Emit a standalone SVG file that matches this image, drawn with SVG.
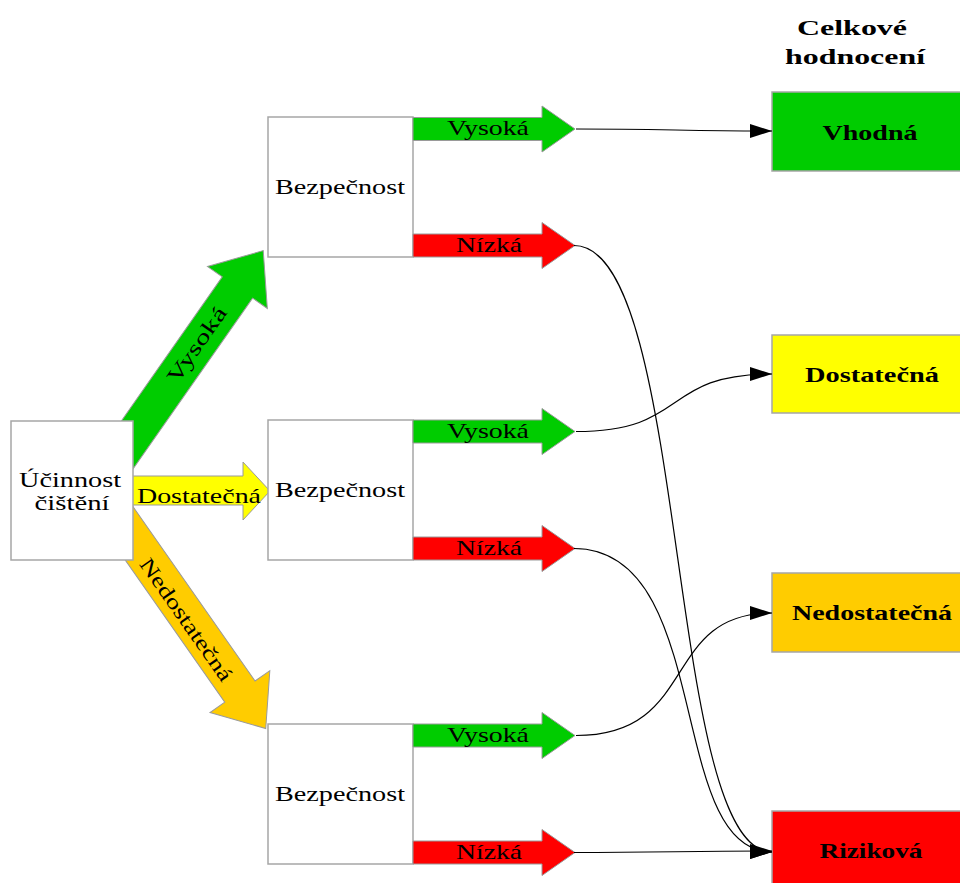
<svg xmlns="http://www.w3.org/2000/svg" width="960" height="883" viewBox="0 0 960 883">
<style>
.box{fill:#fff;stroke:#a6a6a6;stroke-width:1.5}
.t{font-family:"Liberation Serif","Times New Roman",serif;font-size:21px;fill:#000}
.b{font-family:"Liberation Serif","Times New Roman",serif;font-size:21px;font-weight:bold;fill:#000}
.g{fill:#00cc00;stroke:#9a9a9a;stroke-width:1}
.r{fill:#ff0000;stroke:#9a9a9a;stroke-width:1}
.y{fill:#ffff00;stroke:#9a9a9a;stroke-width:1}
.o{fill:#ffcc00;stroke:#9a9a9a;stroke-width:1}
.c{fill:none;stroke:#000;stroke-width:1.2;marker-end:url(#ah)}
</style>
<defs>
<path id="sa" d="M0,-11.5 H129 V-23 L162,0 L129,23 V11.5 H0 Z"/>
<path id="da" d="M0,-18.5 H215 V-36.5 L260,0 L215,36.5 V18.5 H0 Z"/>
<marker id="ah" markerUnits="userSpaceOnUse" markerWidth="24" markerHeight="16" refX="22" refY="7" orient="auto">
<path d="M0,0 L22,7 L0,14 Z" fill="#000"/>
</marker>
</defs>

<g id="header">
<text class="b" x="852" y="35" text-anchor="middle" font-size="25" textLength="110" lengthAdjust="spacingAndGlyphs">Celkové</text>
<text class="b" x="855" y="64" text-anchor="middle" font-size="25" textLength="140" lengthAdjust="spacingAndGlyphs">hodnocení</text>
</g>

<g id="arrow-vysoka-main">
<use href="#da" class="g" transform="translate(114.1,463.6) rotate(-55)"/>
<text class="t" transform="translate(196,344) rotate(-55)" text-anchor="middle" dy="8" font-size="23" textLength="88" lengthAdjust="spacingAndGlyphs">Vysoká</text>
</g>
<g id="arrow-nedostatecna-main">
<use href="#da" class="o" transform="translate(116.6,515.5) rotate(55)"/>
<text class="t" transform="translate(187,619) rotate(55)" text-anchor="middle" dy="8" font-size="24" textLength="145" lengthAdjust="spacingAndGlyphs">Nedostatečná</text>
</g>
<g id="arrow-dostatecna-main">
<path class="y" d="M125,476 H243 V462 L270,491 L243,520 V505 H125 Z"/>
<text class="t" x="199" y="503" text-anchor="middle" textLength="124" lengthAdjust="spacingAndGlyphs">Dostatečná</text>
</g>

<g id="ucinnost">
<rect class="box" x="11" y="421" width="122" height="139"/>
<text class="t" x="70" y="487" text-anchor="middle" textLength="102" lengthAdjust="spacingAndGlyphs">Účinnost</text>
<text class="t" x="72" y="510" text-anchor="middle" textLength="75" lengthAdjust="spacingAndGlyphs">čištění</text>
</g>

<g id="bezp1">
<rect class="box" x="268" y="117" width="145" height="140"/>
<text class="t" x="340" y="194" text-anchor="middle" textLength="130" lengthAdjust="spacingAndGlyphs">Bezpečnost</text>
</g>
<g id="bezp2">
<rect class="box" x="268" y="420" width="145" height="140"/>
<text class="t" x="340" y="497" text-anchor="middle" textLength="130" lengthAdjust="spacingAndGlyphs">Bezpečnost</text>
</g>
<g id="bezp3">
<rect class="box" x="268" y="724" width="145" height="140"/>
<text class="t" x="340" y="801" text-anchor="middle" textLength="130" lengthAdjust="spacingAndGlyphs">Bezpečnost</text>
</g>

<g id="a1v">
<use href="#sa" class="g" transform="translate(413,129)"/>
<text class="t" x="488" y="135" text-anchor="middle" textLength="82" lengthAdjust="spacingAndGlyphs">Vysoká</text>
</g>
<g id="a1n">
<use href="#sa" class="r" transform="translate(413,245.5)"/>
<text class="t" x="489" y="252" text-anchor="middle" textLength="66" lengthAdjust="spacingAndGlyphs">Nízká</text>
</g>
<g id="a2v">
<use href="#sa" class="g" transform="translate(413,431.5)"/>
<text class="t" x="488" y="438" text-anchor="middle" textLength="82" lengthAdjust="spacingAndGlyphs">Vysoká</text>
</g>
<g id="a2n">
<use href="#sa" class="r" transform="translate(413,548.5)"/>
<text class="t" x="489" y="555" text-anchor="middle" textLength="66" lengthAdjust="spacingAndGlyphs">Nízká</text>
</g>
<g id="a3v">
<use href="#sa" class="g" transform="translate(413,735.5)"/>
<text class="t" x="488" y="742" text-anchor="middle" textLength="82" lengthAdjust="spacingAndGlyphs">Vysoká</text>
</g>
<g id="a3n">
<use href="#sa" class="r" transform="translate(413,852.5)"/>
<text class="t" x="489" y="859" text-anchor="middle" textLength="66" lengthAdjust="spacingAndGlyphs">Nízká</text>
</g>

<g id="vhodna">
<rect x="772" y="92" width="200" height="79" fill="#00cc00" stroke="#a6a6a6" stroke-width="1.5"/>
<text class="b" x="870" y="140" text-anchor="middle" textLength="95" lengthAdjust="spacingAndGlyphs">Vhodná</text>
</g>
<g id="dostatecna">
<rect x="772" y="335" width="200" height="78" fill="#ffff00" stroke="#a6a6a6" stroke-width="1.5"/>
<text class="b" x="872" y="382" text-anchor="middle" textLength="134" lengthAdjust="spacingAndGlyphs">Dostatečná</text>
</g>
<g id="nedostatecna">
<rect x="772" y="573" width="200" height="79" fill="#ffcc00" stroke="#a6a6a6" stroke-width="1.5"/>
<text class="b" x="872" y="620" text-anchor="middle" textLength="160" lengthAdjust="spacingAndGlyphs">Nedostatečná</text>
</g>
<g id="rizikova">
<rect x="772" y="811" width="200" height="90" fill="#ff0000" stroke="#a6a6a6" stroke-width="1.5"/>
<text class="b" x="871" y="858" text-anchor="middle" textLength="103" lengthAdjust="spacingAndGlyphs">Riziková</text>
</g>

<g id="connectors">
<path class="c" d="M576,129 C660,129 690,131 772,131"/>
<path class="c" d="M574,245.5 C690,245.5 665,852 772,852"/>
<path class="c" d="M576,431.5 C690,431.5 660,374 772,374"/>
<path class="c" d="M574,548.5 C715,548.5 665,852 772,852"/>
<path class="c" d="M576,735.5 C700,735.5 660,613 772,613"/>
<path class="c" d="M574,852.5 C660,852.5 690,851 772,851"/>
</g>
</svg>
